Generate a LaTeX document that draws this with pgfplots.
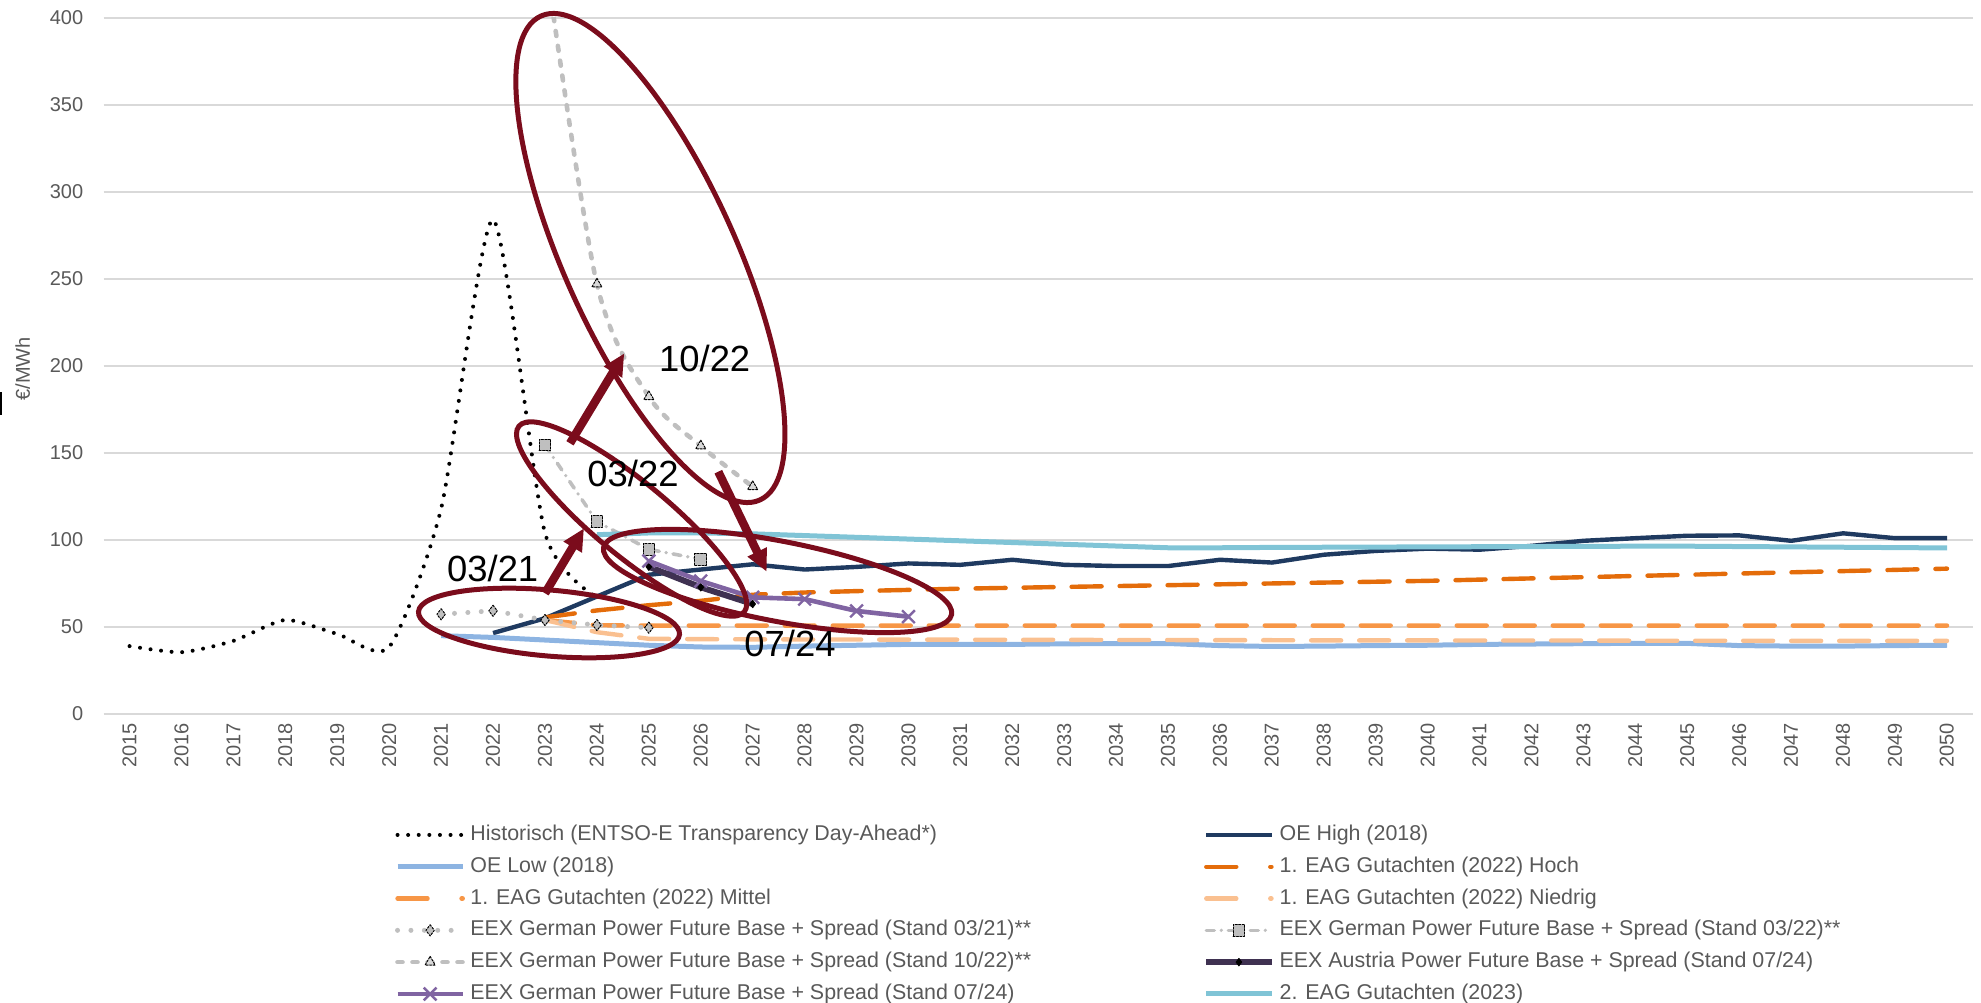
\documentclass[border=0pt]{standalone}
\usepackage{fontspec}
\setmainfont{Liberation Sans}
\usepackage{pgfplots}
\pgfplotsset{compat=1.18}
\usetikzlibrary{arrows.meta}

\definecolor{tickgrey}{HTML}{595959}
\definecolor{gridgrey}{HTML}{D9D9D9}
\definecolor{oehigh}{HTML}{1F3A60}
\definecolor{oelow}{HTML}{8DB4E2}
\definecolor{eaghoch}{HTML}{E46C0A}
\definecolor{eagmittel}{HTML}{F79646}
\definecolor{eagniedrig}{HTML}{FAC090}
\definecolor{eexgrey}{HTML}{BFBFBF}
\definecolor{eexat}{HTML}{3F3151}
\definecolor{eexde}{HTML}{8064A2}
\definecolor{eagzwei}{HTML}{80C4D6}
\definecolor{annot}{HTML}{7B0C1C}

\begin{document}
\begin{tikzpicture}
\begin{axis}[
  scale only axis,
  width=934.7pt, height=348.15pt,
  xmin=2014.5, xmax=2050.5,
  ymin=0, ymax=400,
  xtick={2015,...,2050},
  ytick={0,50,...,400},
  ymajorgrids,
  major grid style={draw=gridgrey, line width=0.9pt},
  axis line style={draw=none},
  major tick length=0pt,
  clip marker paths=true,
  /pgf/number format/assume math mode=true,
  /pgf/number format/1000 sep={},
  tick label style={font=\fontsize{10}{12}\selectfont, text=tickgrey},
  xticklabel style={rotate=90, anchor=east, inner sep=0pt},
  xticklabel shift=4.4pt,
  yticklabel style={anchor=east, inner sep=0pt},
  yticklabel shift=10pt,
  ylabel={€/MWh},
  every axis y label/.style={at={(axis description cs:-0.0433,0.4955)}, rotate=90, anchor=center,
    font=\fontsize{10}{12}\selectfont, text=tickgrey},
  legend columns=2,
  legend cell align=left,
  legend style={draw=none, fill=none, at={(axis description cs:0.1559,-0.1586)}, anchor=north west,
    inner sep=0pt, outer sep=0pt, font=\fontsize{10.7}{12}\selectfont, text=tickgrey,
    row sep=5.4pt, nodes={inner sep=0pt, text height=8pt, text depth=2.5pt},
    /tikz/every odd column/.append style={column sep=2.6pt},
    /tikz/every even column/.append style={column sep=86pt}},
  legend image code/.code={\draw[mark repeat=2,mark phase=2,#1] plot coordinates {(0pt,0pt) (16.3pt,0pt) (32.6pt,0pt)};},
  every axis plot/.append style={line join=round},
  eag/.style={line width=2.2pt, line cap=round, dash pattern=on 15pt off 9pt,
    legend image code/.code={\draw[##1, dash pattern=on 15pt off 17pt] (0pt,0pt) -- (32.6pt,0pt);}},
]
\coordinate (O) at (rel axis cs:0,0);

% Historisch (ENTSO-E)
\addplot[black, smooth, tension=0.4, line width=2pt, line cap=round, dash pattern=on 0pt off 5.3pt] coordinates {
  (2015,39) (2016,35.5) (2017,42) (2018,54) (2019,46) (2020,38.5)
  (2021,118) (2022,284) (2023,104) (2024,67)};
\addlegendentry{Historisch (ENTSO-E Transparency Day-Ahead*)}

% OE High
\addplot[oehigh, line width=2.2pt] coordinates {
  (2022,46.5) (2023,55) (2024,67.5) (2025,80) (2026,83) (2027,86) (2028,83)
  (2029,84.5) (2030,86.5) (2031,85.7) (2032,88.6) (2033,85.7) (2034,85) (2035,85)
  (2036,88.6) (2037,87) (2038,91.5) (2039,93.7) (2040,95) (2041,94.4) (2042,96.6)
  (2043,99.5) (2044,101) (2045,102.4) (2046,102.6) (2047,99.5) (2048,103.8)
  (2049,101) (2050,101)};
\addlegendentry{OE High (2018)}

% OE Low
\addplot[oelow, line width=2.5pt] coordinates {
  (2021,45) (2022,44) (2023,42.5) (2024,41) (2025,39.5) (2026,38.5) (2027,38.3)
  (2028,39) (2029,39.5) (2030,40) (2031,40) (2032,40) (2033,40.3) (2034,40.5)
  (2035,40.5) (2036,39.3) (2037,38.8) (2038,39) (2039,39.3) (2040,39.5) (2041,40)
  (2042,40.2) (2043,40.4) (2044,40.6) (2045,40.6) (2046,39.3) (2047,39) (2048,39)
  (2049,39.3) (2050,39.5)};
\addlegendentry{OE Low (2018)}

% 1. EAG Gutachten Hoch
\addplot[eaghoch, eag] coordinates {
  (2023,55.5) (2024,59.5) (2025,62.5) (2026,65) (2027,68.5) (2028,69.8) (2029,70.6)
  (2030,71.3) (2031,72) (2032,72.5) (2033,73) (2034,73.5) (2035,74) (2036,74.5)
  (2037,75) (2038,75.5) (2039,76) (2040,76.5) (2041,77.2) (2042,77.9) (2043,78.6)
  (2044,79.3) (2045,80) (2046,80.7) (2047,81.4) (2048,82.1) (2049,82.8) (2050,83.5)};
\addlegendentry{1. EAG Gutachten (2022) Hoch}

% 1. EAG Gutachten Mittel
\addplot[eagmittel, eag] coordinates {
  (2023,54) (2024,51) (2025,50.8) (2026,50.8) (2027,50.8) (2028,50.8) (2029,50.8)
  (2030,50.8) (2031,50.8) (2032,50.8) (2033,50.8) (2034,50.8) (2035,50.8) (2036,50.8)
  (2037,50.8) (2038,50.8) (2039,50.8) (2040,50.8) (2041,50.8) (2042,50.8) (2043,50.8)
  (2044,50.8) (2045,50.8) (2046,50.8) (2047,50.8) (2048,50.8) (2049,50.8) (2050,50.8)};
\addlegendentry{1. EAG Gutachten (2022) Mittel}

% 1. EAG Gutachten Niedrig
\addplot[eagniedrig, eag] coordinates {
  (2023,54) (2024,47) (2025,43.2) (2026,43) (2027,42.9) (2028,42.8) (2029,42.8)
  (2030,42.7) (2031,42.7) (2032,42.6) (2033,42.6) (2034,42.5) (2035,42.5) (2036,42.4)
  (2037,42.4) (2038,42.3) (2039,42.3) (2040,42.3) (2041,42.2) (2042,42.2) (2043,42.2)
  (2044,42.1) (2045,42.1) (2046,42.1) (2047,42) (2048,42) (2049,42) (2050,42)};
\addlegendentry{1. EAG Gutachten (2022) Niedrig}

% EEX 03/21
\addplot[eexgrey, line width=2.5pt, line cap=round, dash pattern=on 0pt off 6.7pt,
  mark=diamond*, mark size=2.8pt,
  mark options={solid, draw=black, fill=eexgrey, line width=0.5pt, dash pattern=on 1pt off 0.7pt}] coordinates {
  (2021,57.3) (2022,59.3) (2023,54) (2024,51.1) (2025,49.6)};
\addlegendentry{EEX German Power Future Base + Spread (Stand 03/21)**}

% EEX 03/22
\addplot[eexgrey, line width=1.8pt, line cap=round, dash pattern=on 4pt off 3.5pt on 0pt off 3.5pt,
  mark=square*, mark size=2.9pt,
  mark options={solid, draw=black, fill=eexgrey, line width=0.5pt, dash pattern=on 1pt off 0.7pt}] coordinates {
  (2023,154.5) (2024,110.5) (2025,94.6) (2026,88.9)};
\addlegendentry{EEX German Power Future Base + Spread (Stand 03/22)**}

% EEX 10/22
\addplot[eexgrey, smooth, line width=2.3pt, line cap=round, dash pattern=on 2.5pt off 5pt,
  mark=triangle*, mark size=2.9pt,
  mark options={solid, draw=black, fill=eexgrey!60, line width=0.5pt, dash pattern=on 1pt off 0.7pt}] coordinates {
  (2023,435) (2024,247) (2025,182.3) (2026,154) (2027,130.6)};
\addlegendentry{EEX German Power Future Base + Spread (Stand 10/22)**}

% EEX Austria 07/24
\addplot[eexat, line width=3pt, mark=diamond*, mark size=1.9pt,
  mark options={solid, draw=black, fill=black, line width=0.4pt}] coordinates {
  (2025,84.6) (2026,72.8) (2027,63.2)};
\addlegendentry{EEX Austria Power Future Base + Spread (Stand 07/24)}

% EEX German 07/24
\addplot[eexde, line width=2.3pt, mark=x, mark size=4.5pt,
  mark options={solid, line width=1.2pt}] coordinates {
  (2025,87.9) (2026,76.4) (2027,67) (2028,66) (2029,59.2) (2030,55.9)};
\addlegendentry{EEX German Power Future Base + Spread (Stand 07/24)}

% 2. EAG Gutachten (2023)
\addplot[eagzwei, line width=2.5pt] coordinates {
  (2024,103) (2025,104) (2026,104) (2027,103.5) (2028,102.5) (2029,101.5) (2030,100.5)
  (2031,99.5) (2032,98.5) (2033,97.5) (2034,96.5) (2035,95.5) (2036,95.5) (2037,95.7)
  (2038,95.8) (2039,95.9) (2040,96) (2041,96.1) (2042,96.2) (2043,96.3) (2044,96.4)
  (2045,96.4) (2046,96.2) (2047,96) (2048,95.8) (2049,95.6) (2050,95.4)};
\addlegendentry{2. EAG Gutachten (2023)}
\end{axis}

% annotations: ellipses, arrows and labels
\begin{scope}[shift={(O)}]
  \tikzset{ann/.style={draw=annot, line width=2.5pt}}
  \draw[ann, rotate around={114.35:(273.4pt,228pt)}] (273.4pt,228pt) ellipse (132.8pt and 42.9pt);
  \draw[ann, rotate around={-39.5:(264pt,97.5pt)}] (264pt,97.5pt) ellipse (73pt and 18.5pt);
  \draw[ann, rotate around={-10.9:(337pt,66.5pt)}] (337pt,66.5pt) ellipse (88.6pt and 20pt);
  \draw[ann, rotate around={-5:(222.7pt,45.5pt)}] (222.7pt,45.5pt) ellipse (65.5pt and 16.5pt);
  \tikzset{arr/.style={draw=annot, line width=4.2pt, -{Triangle[length=11pt,width=10pt]}}}
  \draw[arr] (220.7pt,60.35pt) -- (240.2pt,92.85pt);
  \draw[arr] (233.2pt,135.35pt) -- (260.35pt,180.35pt);
  \draw[arr] (307.35pt,121.15pt) -- (331.55pt,71.15pt);
  \tikzset{lab/.style={font=\fontsize{18.2}{20}\selectfont, text=black, inner sep=0pt}}
  \node[lab] at (194.55pt,72.85pt) {03/21};
  \node[lab] at (264.7pt,120.35pt) {03/22};
  \node[lab] at (300.55pt,177.85pt) {10/22};
  \node[lab] at (343.2pt,35.5pt) {07/24};
  \fill[black] (-51.8pt,149.5pt) rectangle (-50.9pt,161.2pt);
\end{scope}

\pgfresetboundingbox
\path[use as bounding box] ([shift={(-51.8pt,-144pt)}]O) rectangle ([shift={(938.7pt,357pt)}]O);
\end{tikzpicture}
\end{document}
